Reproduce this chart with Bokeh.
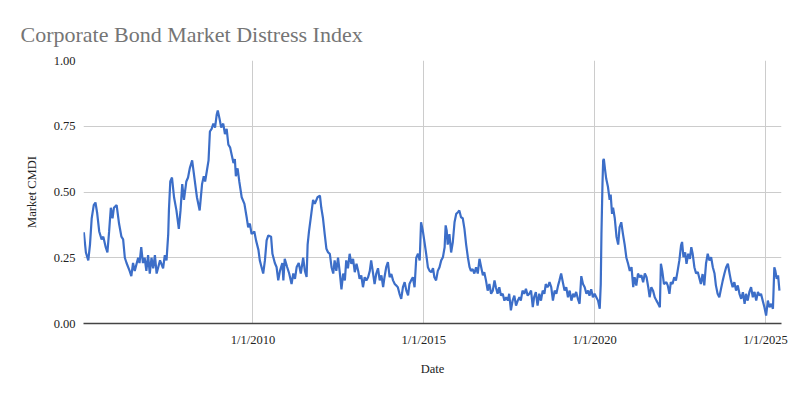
from bokeh.plotting import figure
from bokeh.models import FixedTicker, Range1d
from bokeh.embed import file_html
from bokeh.resources import INLINE

# decimal year, Market CMDI value
dates = [
 2005.05, 2005.11, 2005.18, 2005.23, 2005.28, 2005.34, 2005.39, 2005.44, 2005.50, 2005.57,
 2005.62, 2005.69, 2005.74, 2005.79, 2005.84, 2005.89, 2005.93, 2006.01, 2006.08, 2006.15,
 2006.20, 2006.25, 2006.30, 2006.39, 2006.44, 2006.49, 2006.54, 2006.64, 2006.68, 2006.73,
 2006.78, 2006.83, 2006.88, 2006.93, 2006.98, 2007.03, 2007.08, 2007.13, 2007.18, 2007.28,
 2007.37, 2007.42, 2007.47, 2007.52, 2007.54, 2007.58, 2007.63, 2007.69, 2007.76, 2007.83,
 2007.88, 2007.93, 2007.98, 2008.05, 2008.10, 2008.15, 2008.22, 2008.29, 2008.36, 2008.44,
 2008.51, 2008.56,
 2008.60, 2008.65, 2008.70, 2008.74, 2008.79, 2008.84, 2008.89, 2008.94, 2008.97, 2009.02,
 2009.07, 2009.13, 2009.18, 2009.23, 2009.28, 2009.33, 2009.38, 2009.43, 2009.47, 2009.50,
 2009.55, 2009.60, 2009.67, 2009.75, 2009.82, 2009.86, 2009.91, 2009.96, 2010.04, 2010.09,
 2010.16, 2010.20, 2010.25, 2010.30, 2010.35, 2010.40, 2010.45, 2010.53, 2010.57, 2010.64,
 2010.69, 2010.74, 2010.79, 2010.86, 2010.89, 2010.93, 2011.00, 2011.06, 2011.13, 2011.18,
 2011.23, 2011.28, 2011.34, 2011.40, 2011.47, 2011.52, 2011.57, 2011.60, 2011.64, 2011.71,
 2011.76, 2011.81, 2011.89, 2011.96,
 2012.00, 2012.05, 2012.10, 2012.15, 2012.20, 2012.25, 2012.30, 2012.35, 2012.39, 2012.44,
 2012.49, 2012.54, 2012.59, 2012.64, 2012.69, 2012.73, 2012.78, 2012.83, 2012.88, 2012.93,
 2012.98, 2013.03, 2013.08, 2013.12, 2013.17, 2013.22, 2013.27, 2013.32, 2013.37, 2013.42,
 2013.46, 2013.51, 2013.56, 2013.61, 2013.66, 2013.71, 2013.76, 2013.81, 2013.85, 2013.90,
 2013.95, 2014.00, 2014.05, 2014.10, 2014.15, 2014.19, 2014.24, 2014.29, 2014.34, 2014.39,
 2014.44, 2014.49, 2014.54, 2014.58, 2014.63, 2014.68, 2014.73, 2014.78, 2014.83, 2014.88,
 2014.92, 2014.97, 2015.02, 2015.07, 2015.12, 2015.17, 2015.22,
 2015.27, 2015.31, 2015.36, 2015.41, 2015.46, 2015.51, 2015.56, 2015.61, 2015.64, 2015.67,
 2015.70, 2015.75, 2015.80, 2015.85, 2015.90, 2015.95, 2016.00, 2016.04, 2016.09, 2016.14,
 2016.19, 2016.24, 2016.29, 2016.34, 2016.38, 2016.43, 2016.48, 2016.53, 2016.58, 2016.63,
 2016.68, 2016.73, 2016.77, 2016.82, 2016.87, 2016.92, 2016.97, 2017.02, 2017.07, 2017.11,
 2017.16, 2017.21, 2017.26, 2017.31, 2017.36, 2017.41, 2017.46, 2017.50, 2017.55, 2017.60,
 2017.65, 2017.70, 2017.75, 2017.80, 2017.84, 2017.89, 2017.94, 2017.99, 2018.04, 2018.09,
 2018.14, 2018.19, 2018.23, 2018.28, 2018.33, 2018.38, 2018.43, 2018.48, 2018.53, 2018.57,
 2018.62, 2018.65,
 2018.68, 2018.73, 2018.78, 2018.83, 2018.88, 2018.93, 2018.97, 2019.02, 2019.07, 2019.12,
 2019.17, 2019.22, 2019.27, 2019.32, 2019.37, 2019.41, 2019.46, 2019.51, 2019.56, 2019.61,
 2019.66, 2019.71, 2019.76, 2019.81, 2019.85, 2019.90, 2019.95, 2020.00, 2020.05, 2020.10,
 2020.15, 2020.18, 2020.20, 2020.23, 2020.25, 2020.27, 2020.31, 2020.34, 2020.39, 2020.44,
 2020.47, 2020.51, 2020.54, 2020.59, 2020.64, 2020.69, 2020.73, 2020.78, 2020.83, 2020.88,
 2020.93, 2020.98, 2021.03, 2021.08, 2021.13, 2021.17, 2021.22, 2021.27, 2021.32, 2021.37,
 2021.42, 2021.47, 2021.52, 2021.57, 2021.61, 2021.66, 2021.71, 2021.76, 2021.81, 2021.86,
 2021.91, 2021.94, 2021.98, 2022.03, 2022.10,
 2022.14, 2022.19, 2022.23, 2022.28, 2022.33, 2022.38, 2022.43, 2022.48, 2022.53, 2022.56,
 2022.60, 2022.65, 2022.69, 2022.74, 2022.79, 2022.83, 2022.87, 2022.92, 2022.97, 2023.02,
 2023.07, 2023.11, 2023.16, 2023.21, 2023.26, 2023.31, 2023.36, 2023.41, 2023.46, 2023.51,
 2023.55, 2023.60, 2023.65, 2023.70, 2023.75, 2023.80, 2023.85, 2023.90, 2023.95, 2023.99,
 2024.04, 2024.09, 2024.14, 2024.19, 2024.24, 2024.29, 2024.34, 2024.39, 2024.43, 2024.48,
 2024.53, 2024.58, 2024.63, 2024.68, 2024.73, 2024.78, 2024.83, 2024.87, 2024.92, 2024.97,
 2025.02, 2025.07, 2025.12, 2025.17, 2025.22, 2025.26, 2025.29, 2025.33, 2025.37, 2025.41,
]

cmdi = [
 0.347, 0.27, 0.24, 0.30, 0.40, 0.45, 0.46, 0.42, 0.35, 0.32,
 0.33, 0.29, 0.27, 0.35, 0.44, 0.40, 0.44, 0.45, 0.38, 0.33,
 0.32, 0.25, 0.23, 0.20, 0.18, 0.23, 0.20, 0.25, 0.23, 0.29,
 0.23, 0.25, 0.20, 0.26, 0.19, 0.25, 0.21, 0.26, 0.19, 0.24,
 0.21, 0.26, 0.24, 0.34, 0.43, 0.54, 0.555, 0.48, 0.43, 0.36,
 0.43, 0.53, 0.47, 0.54, 0.555, 0.59, 0.62, 0.55, 0.48, 0.43,
 0.53, 0.56,
 0.54, 0.58, 0.62, 0.73, 0.74, 0.76, 0.745, 0.795, 0.81, 0.78,
 0.745, 0.76, 0.72, 0.74, 0.68, 0.67, 0.64, 0.61, 0.625, 0.56,
 0.59, 0.54, 0.48, 0.455, 0.40, 0.366, 0.38, 0.34, 0.35, 0.316,
 0.28, 0.24, 0.215, 0.19, 0.24, 0.316, 0.335, 0.33, 0.265, 0.23,
 0.215, 0.164, 0.20, 0.23, 0.164, 0.246, 0.215, 0.19, 0.15, 0.19,
 0.17, 0.215, 0.23, 0.19, 0.25, 0.20, 0.177, 0.30, 0.35, 0.42,
 0.47, 0.455, 0.48, 0.486,
 0.44, 0.40, 0.34, 0.284, 0.27, 0.265, 0.214, 0.19, 0.24, 0.20,
 0.25, 0.195, 0.13, 0.19, 0.164, 0.24, 0.21, 0.265, 0.227, 0.246,
 0.195, 0.227, 0.20, 0.17, 0.183, 0.138, 0.176, 0.164, 0.176, 0.20,
 0.24, 0.195, 0.15, 0.19, 0.21, 0.164, 0.183, 0.138, 0.176, 0.214,
 0.233, 0.176, 0.188, 0.164, 0.15, 0.145, 0.138, 0.113, 0.094, 0.138,
 0.157, 0.125, 0.107, 0.15, 0.164, 0.176, 0.138, 0.25, 0.265, 0.24,
 0.385, 0.354, 0.31, 0.265, 0.214, 0.20, 0.195,
 0.21, 0.176, 0.164, 0.20, 0.214, 0.24, 0.252, 0.29, 0.373, 0.354,
 0.30, 0.34, 0.27, 0.31, 0.385, 0.417, 0.423, 0.43, 0.404, 0.40,
 0.36, 0.30, 0.252, 0.214, 0.20, 0.207, 0.19, 0.214, 0.19, 0.246,
 0.214, 0.183, 0.195, 0.164, 0.125, 0.15, 0.113, 0.125, 0.164, 0.138,
 0.113, 0.138, 0.106, 0.113, 0.087, 0.10, 0.087, 0.113, 0.05, 0.087,
 0.106, 0.068, 0.087, 0.10, 0.087, 0.125, 0.113, 0.132, 0.106, 0.113,
 0.125, 0.062, 0.10, 0.119, 0.068, 0.113, 0.087, 0.125, 0.113, 0.15,
 0.138, 0.145,
 0.157, 0.138, 0.087, 0.125, 0.113, 0.144, 0.163, 0.19, 0.157, 0.125,
 0.138, 0.10, 0.125, 0.087, 0.113, 0.10, 0.12, 0.094, 0.075, 0.18,
 0.15, 0.138, 0.113, 0.125, 0.106, 0.13, 0.10, 0.113, 0.10, 0.087,
 0.056, 0.15, 0.34, 0.53, 0.62, 0.626, 0.58, 0.55, 0.52, 0.47,
 0.49, 0.417, 0.44, 0.40, 0.33, 0.30, 0.366, 0.385, 0.34, 0.30,
 0.25, 0.227, 0.20, 0.214, 0.138, 0.176, 0.144, 0.19, 0.176, 0.183,
 0.157, 0.19, 0.176, 0.138, 0.10, 0.138, 0.125, 0.10, 0.087, 0.075,
 0.062, 0.227, 0.20, 0.15, 0.157,
 0.145, 0.113, 0.157, 0.15, 0.176, 0.163, 0.20, 0.24, 0.297, 0.31,
 0.252, 0.27, 0.227, 0.265, 0.246, 0.29, 0.265, 0.214, 0.19, 0.196,
 0.17, 0.15, 0.188, 0.145, 0.227, 0.265, 0.24, 0.252, 0.214, 0.19,
 0.145, 0.113, 0.10, 0.132, 0.163, 0.19, 0.214, 0.227, 0.19, 0.163,
 0.138, 0.157, 0.125, 0.145, 0.113, 0.094, 0.119, 0.075, 0.113, 0.087,
 0.12, 0.138, 0.10, 0.12, 0.087, 0.12, 0.106, 0.113, 0.087, 0.062,
 0.03, 0.087, 0.062, 0.075, 0.056, 0.214, 0.20, 0.17, 0.183, 0.125,
]

x_ticks = [2010, 2015, 2020, 2025]
x_tick_labels = ["1/1/2010", "1/1/2015", "1/1/2020", "1/1/2025"]
y_ticks = [0.0, 0.25, 0.5, 0.75, 1.0]
y_tick_labels = ["0.00", "0.25", "0.50", "0.75", "1.00"]

SERIF = "Liberation Serif"

p = figure(width=792, height=387, output_backend="svg", toolbar_location=None,
           x_range=Range1d(2005.04, 2025.47), y_range=Range1d(0, 1),
           min_border_left=83, min_border_right=11, min_border_top=60, min_border_bottom=64,
           title="Corporate Bond Market Distress Index")

p.line(dates, cmdi, line_color="#3c6ec8", line_width=2.2)

p.title.text_font = SERIF
p.title.text_font_size = "22px"
p.title.text_font_style = "normal"
p.title.text_color = "#757575"
p.title.offset = -63
p.title.standoff = 28

p.outline_line_color = None
p.background_fill_color = "white"
p.border_fill_color = "white"

p.xaxis.ticker = FixedTicker(ticks=x_ticks)
p.xaxis.major_label_overrides = dict(zip(x_ticks, x_tick_labels))
p.yaxis.ticker = FixedTicker(ticks=y_ticks)
p.yaxis.major_label_overrides = dict(zip(y_ticks, y_tick_labels))

for ax in (p.xaxis, p.yaxis):
    ax.major_tick_line_color = None
    ax.minor_tick_line_color = None
    ax.major_label_text_font = SERIF
    ax.major_label_text_font_size = "12.5px"
    ax.major_label_text_color = "#222222"
    ax.axis_label_text_font = SERIF
    ax.axis_label_text_font_size = "12.5px"
    ax.axis_label_text_font_style = "normal"
    ax.axis_label_text_color = "#222222"

p.xaxis.axis_label = "Date"
p.yaxis.axis_label = "Market CMDI"
p.xaxis.axis_line_color = "#444444"
p.xaxis.axis_line_width = 1.5
p.yaxis.axis_line_color = None
p.xaxis.major_label_standoff = 3
p.xaxis.axis_label_standoff = 12
p.yaxis.major_label_standoff = 2
p.yaxis.axis_label_standoff = 12

p.xgrid.ticker = FixedTicker(ticks=x_ticks)
p.ygrid.ticker = FixedTicker(ticks=y_ticks)
p.xgrid.grid_line_color = "#cccccc"
p.ygrid.grid_line_color = "#cccccc"
p.xgrid.grid_line_width = 1
p.ygrid.grid_line_width = 1

open("out.html", "w").write(file_html(p, INLINE))
